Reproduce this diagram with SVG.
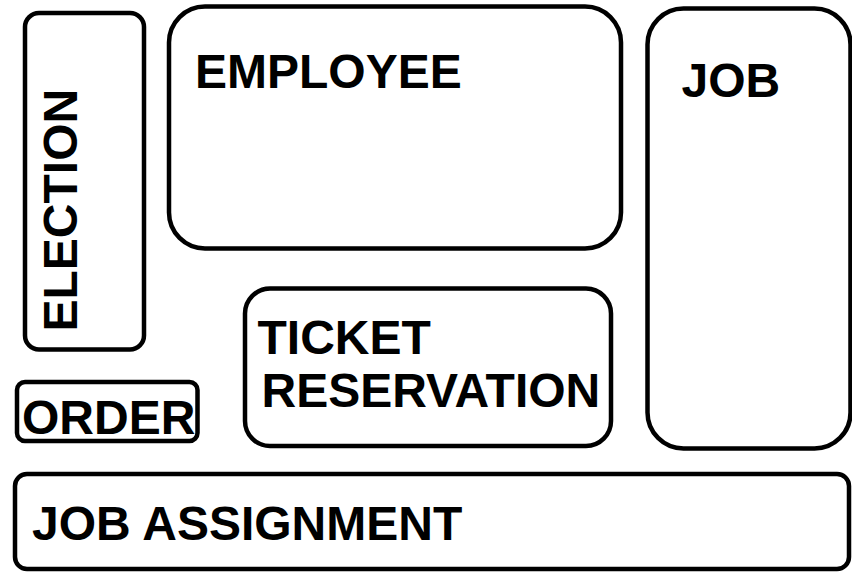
<svg xmlns="http://www.w3.org/2000/svg" width="852" height="572" viewBox="0 0 852 572">
<style>
.box{fill:#fff;stroke:#000;stroke-width:4.5}
.t{font-family:"Liberation Sans",Arial,sans-serif;font-weight:bold;font-size:48px;fill:#000}
</style>
<rect width="852" height="572" fill="#fff"/>
<g id="election"><rect class="box" x="25" y="13" width="119" height="336.5" rx="14"/><text class="t" transform="translate(76.7,331.5) rotate(-90)">ELECTION</text></g>
<g id="employee"><rect class="box" x="169" y="6.5" width="452" height="242" rx="36"/><text class="t" x="195" y="88">EMPLOYEE</text></g>
<g id="job"><rect class="box" x="647.5" y="8.5" width="203" height="440" rx="36"/><text class="t" x="681.5" y="96.5">JOB</text></g>
<g id="ticket"><rect class="box" x="245" y="288.5" width="366" height="157.5" rx="25"/><text class="t" x="257.5" y="353.5">TICKET</text><text class="t" x="261.5" y="406.5">RESERVATION</text></g>
<g id="order"><rect class="box" x="17" y="382" width="180.5" height="59" rx="8"/><text class="t" x="22" y="434">ORDER</text></g>
<g id="job-assignment"><rect class="box" x="15" y="474" width="834" height="95" rx="12"/><text class="t" x="32" y="540">JOB ASSIGNMENT</text></g>
<g id="connectors"/>
</svg>
